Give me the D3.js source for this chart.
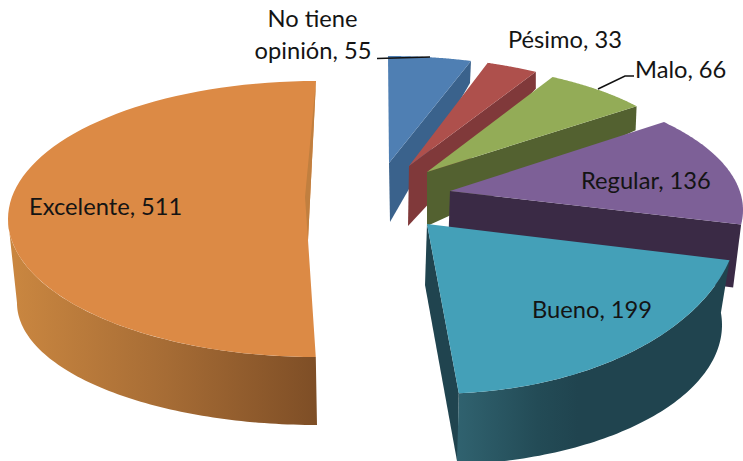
<!DOCTYPE html>
<html><head><meta charset="utf-8">
<script src="https://cdn.jsdelivr.net/npm/d3@7"></script>
<style>html,body{margin:0;padding:0;background:#fff;overflow:hidden}svg{display:block}text{font-family:Lato,"Open Sans",sans-serif;fill:#141414}</style>
</head><body><div id="c"></div>
<script>
// Data
const categories = ["No tiene opinión","Pésimo","Malo","Regular","Bueno","Excelente"];
const values = [55,33,66,136,199,511];

// Styles
const topColors  = ["#4f7fb3","#ae504c","#93ac57","#7d6097","#44a0b8","#dc8a45"];
const sideColors = ["#3a628c","#80393a","#536130","#3a2a45","#20444f","#c17f3f"];

// Layout of the distorted 3D view, one frame per slice
const W = 743, H = 461;
const frames = [
 {apex:[389,163],cx:388,cy:140,rx:245,ry:84, shift:0,  k:1,     apexDrop:[1,59],   cornerDrop:[-1,22]},
 {apex:[409,166],cx:374.5,cy:140,rx:270,ry:85, shift:5,  k:1,   apexDrop:[-1,60],  cornerDrop:[0,17]},
 {apex:[427,172],cx:393,cy:160.5,rx:290,ry:100,shift:1.7,k:1,   apexDrop:[0,54],   cornerDrop:[-1,24]},
 {apex:[450,191],cx:443,cy:210,rx:300,ry:130,shift:-8, k:1,     apexDrop:[-2,60],  cornerDrop:[-8,63]},
 {apex:[427,224],cx:438,cy:216,rx:301,ry:177.6,shift:0,k:1,     apexDrop:[-2,61],  cornerDrop:[-1,72]},
 {apex:[308,240],cx:316,cy:219,rx:308,ry:138,shift:2,k:180/184, apexDrop:null,     cornerDrop:null}
];
const outerSides = [null,null,null,null,
 {cx:437,cy:325,rx:285,ry:140,topTo:176,botFrom:85,botTo:176,grad:"gT"},
 {cx:317,cy:303,rx:300,ry:122,topTo:270,botFrom:180,botTo:270,grad:"gO"}
];
const labels = [
 {lines:["No tiene","opinión, 55"],x:[312.5,313],y:[27,59],anchor:"middle"},
 {lines:["Pésimo, 33"],x:[508],y:[48],anchor:"start"},
 {lines:["Malo, 66"],x:[635],y:[78],anchor:"start"},
 {lines:["Regular, 136"],x:[581],y:[189],anchor:"start"},
 {lines:["Bueno, 199"],x:[532],y:[318],anchor:"start"},
 {lines:["Excelente, 511"],x:[29],y:[215],anchor:"start"}
];
const leaders = [
 {pts:[[377,58.5],[430,57]]},
 {pts:[[598,89],[625,76],[634,76]]}
];

const svg = d3.select("#c").append("svg").attr("width",W).attr("height",H);
const defs = svg.append("defs");
function grad(id,stops,x1,x2){
  const g = defs.append("linearGradient").attr("id",id).attr("gradientUnits","userSpaceOnUse")
    .attr("x1",x1).attr("x2",x2).attr("y1",0).attr("y2",0);
  stops.forEach(s=>g.append("stop").attr("offset",s[0]).attr("stop-color",s[1]));
}
grad("gT",[[0,"#30626f"],[0.3,"#234b56"],[0.45,"#20444f"],[1,"#20444f"]],458,725);
grad("gO",[[0,"#c98640"],[0.5,"#a66c35"],[1,"#7e4e26"]],15,317);

const deg = Math.PI/180;
const pie = d3.pie().sort(null).value(d=>d).startAngle(0).endAngle(2*Math.PI);
const arcs = pie(values);
const line = d3.line();
const ell = (e,a)=>[e.cx+e.rx*Math.sin(a*deg), e.cy-e.ry*Math.cos(a*deg)];
const sweep = (e,a0,a1,n=80)=>d3.range(n+1).map(i=>ell(e,a0+(a1-a0)*i/n));

arcs.forEach((d,i)=>{
  const f = frames[i];
  const a0 = d.startAngle/deg, a1 = d.endAngle/deg, m=(a0+a1)/2;
  const s = m+f.shift+f.k*(a0-m), t = m+f.shift+f.k*(a1-m);
  const g = svg.append("g").attr("class","slice");
  const topArc = sweep(f,s,t);
  const eC = topArc[topArc.length-1];
  // radial side face
  if(f.apexDrop){
    g.append("path").attr("fill",sideColors[i]).attr("d",line([
      f.apex, eC,
      [eC[0]+f.cornerDrop[0],eC[1]+f.cornerDrop[1]],
      [f.apex[0]+f.apexDrop[0],f.apex[1]+f.apexDrop[1]]
    ])+"Z");
  }
  // outer rim
  const o = outerSides[i];
  if(o){
    const rim = sweep(f,s,o.topTo).concat(sweep(o,o.botTo,o.botFrom));
    g.append("path").attr("fill",`url(#${o.grad})`).attr("d",line(rim)+"Z");
  }
  // top face
  g.append("path").attr("fill",topColors[i]).attr("d",line([f.apex].concat(topArc))+"Z");
  // inner sliver of the large slice
  if(i===5){
    g.append("path").attr("fill",sideColors[i]).attr("d",line([eC,[f.apex[0]-3,f.apex[1]-43],f.apex])+"Z");
  }
});

svg.selectAll("path.lead").data(leaders).join("path").attr("class","lead")
  .attr("fill","none").attr("stroke","#111").attr("stroke-width",1.5).attr("d",d=>line(d.pts));

labels.forEach(l=>{
  l.lines.forEach((t,j)=>{
    svg.append("text").attr("x",l.x[j]).attr("y",l.y[j]).attr("text-anchor",l.anchor)
      .attr("font-size",23.7).text(t);
  });
});
</script></body></html>
